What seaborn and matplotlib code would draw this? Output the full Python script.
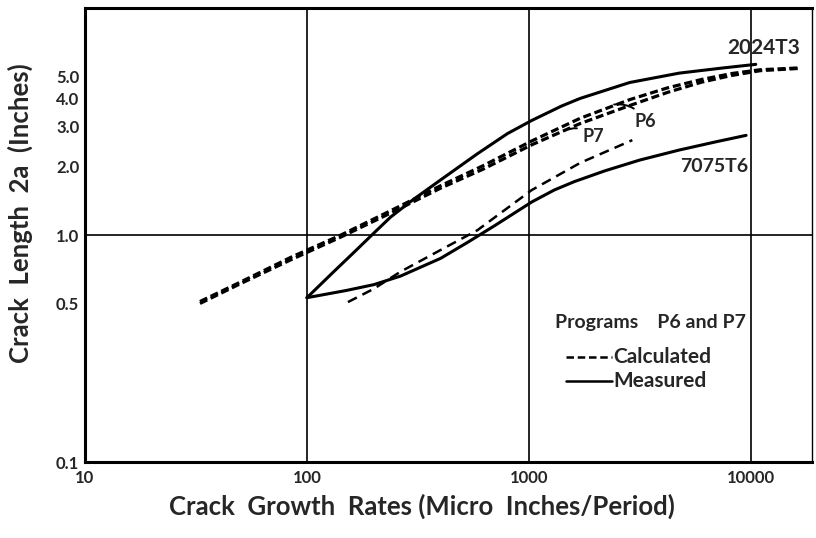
import numpy as np
import pandas as pd
import seaborn as sns
import matplotlib.pyplot as plt

# 2024T3 - calculated (programs P6, P7) and measured
x_2024_calc = [33, 50, 85, 142, 238, 400, 620, 1030, 1700, 2840, 4200, 6000, 8200, 11000, 16400]
y_2024_p6 = [0.51, 0.62, 0.80, 1.00, 1.28, 1.65, 2.02, 2.60, 3.27, 3.95, 4.45, 4.85, 5.15, 5.35, 5.45]
y_2024_p7 = [0.50, 0.61, 0.78, 0.98, 1.25, 1.61, 1.95, 2.50, 3.10, 3.72, 4.25, 4.72, 5.05, 5.30, 5.42]
x_2024_meas = [100, 130, 165, 200, 238, 300, 400, 585, 800, 1030, 1400, 1700, 2840, 4750, 7500, 10500]
y_2024_meas = [0.53, 0.68, 0.85, 1.02, 1.20, 1.43, 1.75, 2.28, 2.80, 3.20, 3.70, 4.00, 4.70, 5.17, 5.45, 5.65]

# 7075T6 - calculated and measured
x_7075_calc = [153, 200, 264, 400, 585, 1030, 1700, 2920]
y_7075_calc = [0.507, 0.58, 0.69, 0.86, 1.05, 1.58, 2.08, 2.62]
x_7075_meas = [100, 150, 200, 264, 400, 530, 700, 1030, 1300, 1600, 2200, 3150, 4750, 7000, 9500]
y_7075_meas = [0.53, 0.57, 0.605, 0.66, 0.79, 0.93, 1.10, 1.40, 1.58, 1.72, 1.92, 2.14, 2.37, 2.58, 2.75]

yticks = [0.1, 0.5, 1.0, 2.0, 3.0, 4.0, 5.0]
ytick_labels = ['0.1', '0.5', '1.0', '2.0', '3.0', '4.0', '5.0']
xticks = [10, 100, 1000, 10000]
xtick_labels = ['10', '100', '1000', '10000']

sns.set_style('white')
plt.rcParams['font.family'] = ['Lato', 'DejaVu Sans']

fig = plt.figure(figsize=(8.16, 5.38), dpi=100)
ax = fig.add_axes([0.104, 0.141, 0.891, 0.844])

# calculated curves (dashed)
sns.lineplot(x=x_2024_calc, y=y_2024_p6, ax=ax, color='black', lw=2.3,
             estimator=None, sort=False)
ax.lines[-1].set_dashes((2.5, 1.2))
sns.lineplot(x=x_2024_calc, y=y_2024_p7, ax=ax, color='black', lw=2.3,
             estimator=None, sort=False)
ax.lines[-1].set_dashes((2.5, 1.2))
sns.lineplot(x=x_7075_calc, y=y_7075_calc, ax=ax, color='black', lw=1.8,
             estimator=None, sort=False)
ax.lines[-1].set_dashes((4, 2.5))

# measured curves (solid)
sns.lineplot(x=x_2024_meas, y=y_2024_meas, ax=ax, color='black', lw=2.2,
             estimator=None, sort=False)
sns.lineplot(x=x_7075_meas, y=y_7075_meas, ax=ax, color='black', lw=2.2,
             estimator=None, sort=False)

ax.set_xscale('log')
ax.set_yscale('log')
ax.set_xlim(10, 18800)
ax.set_ylim(0.1, 10)

# grid lines of the original paper
for xv in [100, 1000, 10000]:
    ax.axvline(xv, color='black', lw=1.2, zorder=0)
ax.axhline(1.0, color='black', lw=1.2, zorder=0)

ax.set_xticks(xticks)
ax.set_xticklabels(xtick_labels)
ax.set_yticks(yticks)
ax.set_yticklabels(ytick_labels)
ax.minorticks_off()
ax.tick_params(axis='y', direction='in', length=12, width=1.2, labelsize=12, pad=4)
ax.tick_params(axis='x', length=0, labelsize=12, pad=6)
for lbl in ax.get_xticklabels() + ax.get_yticklabels():
    lbl.set_fontweight('bold')

for s in ax.spines.values():
    s.set_linewidth(2.2)
    s.set_color('black')
ax.spines['right'].set_linewidth(1)

ax.set_xlabel('Crack  Growth  Rates (Micro  Inches/Period)', fontsize=18.5,
              fontweight='bold')
ax.xaxis.set_label_coords(0.4635, -0.07)
ax.set_ylabel('Crack  Length  2a  (Inches)', fontsize=18.5, fontweight='bold')
ax.yaxis.set_label_coords(-0.072, 0.548)

# curve labels
ax.text(11400, 6.7, '2024T3', fontsize=15, fontweight='bold', ha='center', va='center')
ax.text(6800, 2.0, '7075T6', fontsize=14, fontweight='bold', ha='center', va='center')
ax.annotate('P6', xy=(2350, 3.75), xytext=(3000, 3.15), fontsize=13,
            fontweight='bold', va='center',
            arrowprops=dict(arrowstyle='-', lw=1.4, color='black', shrinkA=2,
                            connectionstyle='arc3,rad=0.35'))
ax.annotate('P7', xy=(1400, 2.85), xytext=(1750, 2.72), fontsize=13,
            fontweight='bold', va='center',
            arrowprops=dict(arrowstyle='-', lw=1.4, color='black', shrinkA=2,
                            connectionstyle='arc3,rad=0.35'))

# key block
ax.text(0.646, 0.308, 'Programs    P6 and P7', transform=ax.transAxes,
        fontsize=14, fontweight='bold', va='center')
ax.plot([0.662, 0.725], [0.231, 0.231], transform=ax.transAxes, color='black',
        lw=1.8, dashes=(3, 1.5))
ax.text(0.727, 0.231, 'Calculated', transform=ax.transAxes, fontsize=15,
        fontweight='bold', va='center')
ax.plot([0.662, 0.725], [0.178, 0.178], transform=ax.transAxes, color='black',
        lw=1.8)
ax.text(0.727, 0.178, 'Measured', transform=ax.transAxes, fontsize=15,
        fontweight='bold', va='center')

fig.savefig('out.png', dpi=100)
